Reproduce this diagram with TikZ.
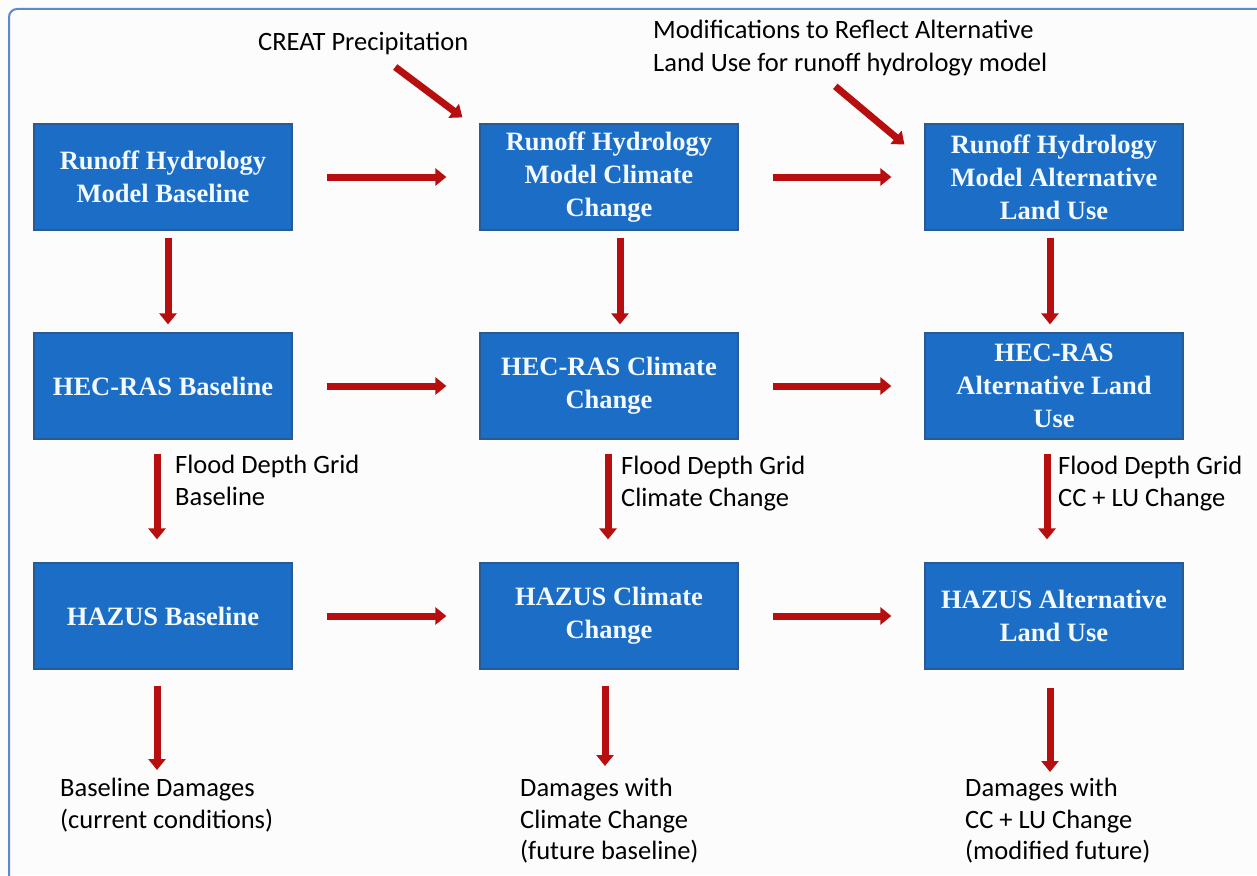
\documentclass[tikz,border=0pt]{standalone}
\usepackage{fontspec}
\setmainfont{Carlito}
\newfontfamily\boxfont{Liberation Serif}
\usetikzlibrary{arrows.meta}
\definecolor{boxblue}{HTML}{1C6DC5}
\definecolor{boxedge}{HTML}{2B5A92}
\definecolor{arrowred}{HTML}{B70F0F}
\definecolor{frameblue}{HTML}{5A8AD0}
\definecolor{boxtext}{HTML}{F2FAFF}
\definecolor{bgpaper}{HTML}{FCFCFC}
\tikzset{
  stagebox/.style={draw=boxedge, line width=1.2pt, fill=boxblue, minimum width=258pt,
    minimum height=106pt, align=center, inner sep=0pt, text=boxtext,
    font=\boxfont\bfseries\fontsize{26.5}{33}\selectfont},
  lab/.style={anchor=north west, align=left, inner sep=0pt, text=black,
    font=\fontsize{26.5}{31.5}\selectfont},
  flow/.style={draw=arrowred, line width=7pt, -{Triangle[width=17pt,length=11pt]}}
}
\begin{document}
\begin{tikzpicture}[x=1pt,y=-1pt]
\useasboundingbox (0,0) rectangle (1257,875);
\fill[bgpaper] (0,0) rectangle (1257,875);
\draw[frameblue, line width=2pt, rounded corners=8pt] (9,876) -- (9,9) -- (1258,9);

% boxes
\node[stagebox] (b11) at (163,177) {Runoff Hydrology\\Model Baseline};
\node[stagebox] (b12) at (609,177) {Runoff Hydrology\\Model Climate\\Change};
\node[stagebox] (b13) at (1054,177) {Runoff Hydrology\\Model Alternative\\Land Use};
\node[stagebox] (b21) at (163,386) {HEC-RAS Baseline};
\node[stagebox] (b22) at (609,386) {HEC-RAS Climate\\Change};
\node[stagebox] (b23) at (1054,386) {HEC-RAS\\Alternative Land\\Use};
\node[stagebox] (b31) at (163,616) {HAZUS Baseline};
\node[stagebox] (b32) at (609,616) {HAZUS Climate\\Change};
\node[stagebox] (b33) at (1054,616) {HAZUS Alternative\\Land Use};

% labels
\node[lab] (creat) at (258,32) {CREAT Precipitation};
\node[lab, font=\fontsize{26.5}{33}\selectfont] (modif) at (653,20) {Modifications to Reflect Alternative\\Land Use for runoff hydrology model};
\node[lab] (fd1) at (175,455) {Flood Depth Grid\\Baseline};
\node[lab] (fd2) at (621,456) {Flood Depth Grid\\Climate Change};
\node[lab] (fd3) at (1058,456) {Flood Depth Grid\\CC + LU Change};
\node[lab] (d1) at (60,778) {Baseline Damages\\(current conditions)};
\node[lab] (d2) at (520,778) {Damages with\\Climate Change\\(future baseline)};
\node[lab] (d3) at (965,778) {Damages with\\CC + LU Change\\(modified future)};

% horizontal arrows
\foreach \r in {1,2,3}{
  \draw[flow, shorten <=34pt, shorten >=33pt] (b\r1) -- (b\r2);
  \draw[flow, shorten <=34pt, shorten >=33pt] (b\r2) -- (b\r3);
}

% vertical arrows row 1 -> row 2
\draw[flow, shorten <=7pt, shorten >=8pt] ([xshift=5pt]b11.south) -- ([xshift=5pt]b21.north);
\draw[flow, shorten <=7pt, shorten >=8pt] ([xshift=11pt]b12.south) -- ([xshift=11pt]b22.north);
\draw[flow, shorten <=7pt, shorten >=8pt] ([xshift=-4pt]b13.south) -- ([xshift=-4pt]b23.north);

% flood depth arrows row 2 -> row 3
\draw[flow, shorten <=14pt, shorten >=23pt] ([xshift=-6pt]b21.south) -- ([xshift=-6pt]b31.north);
\draw[flow, shorten <=14pt, shorten >=23pt] ([xshift=-1pt]b22.south) -- ([xshift=-1pt]b32.north);
\draw[flow, shorten <=14pt, shorten >=23pt] ([xshift=-7pt]b23.south) -- ([xshift=-7pt]b33.north);

% damage arrows
\draw[flow, shorten <=16pt, shorten >=8pt] ([xshift=-6pt]b31.south) -- ([xshift=-6pt]b31.south |- d1.north);
\draw[flow, shorten <=16pt, shorten >=12pt] ([xshift=-4pt]b32.south) -- ([xshift=-4pt]b32.south |- d2.north);
\draw[flow, shorten <=18pt, shorten >=6pt] ([xshift=-4pt]b33.south) -- ([xshift=-4pt]b33.south |- d3.north);

% diagonal input arrows
\coordinate (p1s) at ([shift={(32pt,-12pt)}]creat.south);
\coordinate (p1e) at ([shift={(-17pt,6pt)}]b12.north west);
\draw[flow] (p1s) -- (p1e);
\coordinate (p2s) at ([shift={(-15pt,-10pt)}]modif.south);
\coordinate (p2e) at ([shift={(-20pt,-21pt)}]b13.north west);
\draw[flow] (p2s) -- (p2e);
\end{tikzpicture}
\end{document}
